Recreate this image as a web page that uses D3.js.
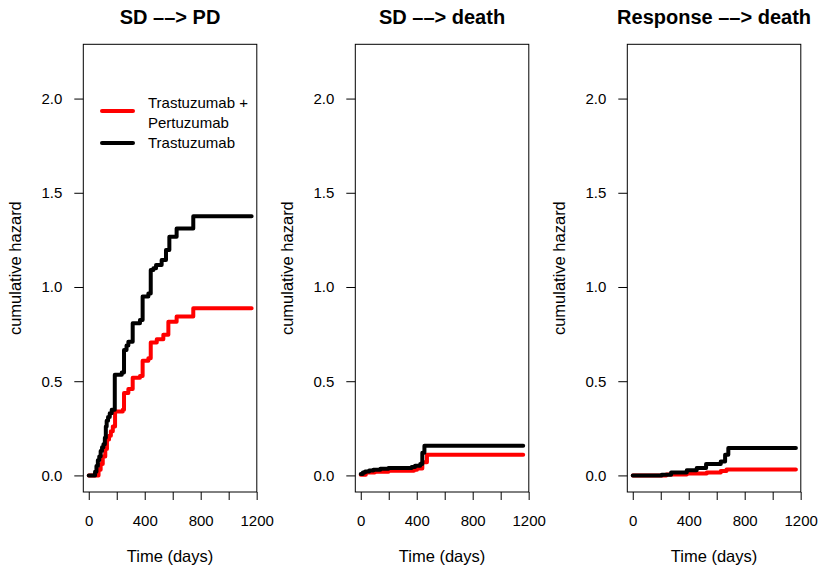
<!DOCTYPE html>
<html>
<head>
<meta charset="utf-8">
<script src="https://cdn.jsdelivr.net/npm/d3@7"></script>
<style>
  html, body { margin: 0; padding: 0; background: #fff; }
  svg text { font-family: "Liberation Sans", Arial, Helvetica, sans-serif; fill: #000; }
</style>
</head>
<body>
<svg id="chart" width="821" height="570"></svg>
<script>
// ---- data ----
const panelTitles = ["SD \u2013\u2013> PD", "SD \u2013\u2013> death", "Response \u2013\u2013> death"];
const seriesNames = ["Trastuzumab +\nPertuzumab", "Trastuzumab"];
const seriesColors = ["#ff0000", "#000000"];
const xTicks = [0, 200, 400, 600, 800, 1000, 1200];
const xTickLabels = ["0", "", "400", "", "800", "", "1200"];
const yTicks = [0, 0.5, 1.0, 1.5, 2.0];
const yTickLabels = ["0.0", "0.5", "1.0", "1.5", "2.0"];
const xLabel = "Time (days)";
const yLabel = "cumulative hazard";

// SD --> PD
const p1Days_TP = [0, 60, 70, 85, 100, 118, 130, 145, 158, 172, 188, 243, 252, 283, 314, 366, 385, 426, 443, 486, 533, 569, 628, 747, 1164];
const p1Haz_TP  = [0, 0, 0.03, 0.06, 0.10, 0.14, 0.19, 0.21, 0.235, 0.26, 0.339, 0.348, 0.437, 0.458, 0.519, 0.528, 0.609, 0.622, 0.705, 0.723, 0.746, 0.816, 0.843, 0.887, 0.887];
const p1Days_T  = [0, 45, 55, 65, 75, 85, 95, 105, 115, 122, 128, 138, 150, 164, 186, 236, 252, 270, 283, 314, 366, 385, 426, 443, 462, 481, 521, 552, 576, 628, 747, 1164];
const p1Haz_T   = [0, 0.02, 0.05, 0.08, 0.10, 0.13, 0.15, 0.165, 0.20, 0.26, 0.29, 0.31, 0.33, 0.348, 0.534, 0.546, 0.666, 0.69, 0.71, 0.807, 0.825, 0.949, 0.966, 1.09, 1.10, 1.117, 1.143, 1.196, 1.267, 1.311, 1.376, 1.376];

// SD --> death
const p2Days_TP = [0, 36, 100, 198, 380, 402, 440, 473, 1161];
const p2Haz_TP  = [0.003, 0.016, 0.020, 0.025, 0.030, 0.037, 0.07, 0.11, 0.11];
const p2Days_T  = [0, 15, 31, 60, 90, 140, 198, 364, 388, 425, 440, 455, 1161];
const p2Haz_T   = [0.007, 0.015, 0.021, 0.026, 0.030, 0.035, 0.039, 0.045, 0.051, 0.06, 0.12, 0.157, 0.157];

// Response --> death
const p3Days_TP = [0, 240, 386, 529, 629, 670, 1166];
const p3Haz_TP  = [0, 0.005, 0.010, 0.015, 0.023, 0.032, 0.032];
const p3Days_T  = [0, 207, 274, 386, 457, 524, 629, 660, 683, 1166];
const p3Haz_T   = [0, 0.004, 0.016, 0.027, 0.039, 0.060, 0.074, 0.11, 0.145, 0.145];

const panels = [
  [[p1Days_TP, p1Haz_TP], [p1Days_T, p1Haz_T]],
  [[p2Days_TP, p2Haz_TP], [p2Days_T, p2Haz_T]],
  [[p3Days_TP, p3Haz_TP], [p3Days_T, p3Haz_T]]
];

// ---- layout ----
const svg = d3.select("#chart");
const boxTop = 44.3, boxBottom = 492, boxW = 173.5, panelStep = 272, firstLeft = 83.3;
const y = d3.scaleLinear().domain([-0.088, 2.288]).range([boxBottom, boxTop]);

panels.forEach((series, i) => {
  const left = firstLeft + i * panelStep;
  const x = d3.scaleLinear().domain([-39, 1201]).range([left, left + boxW]);
  const g = svg.append("g");

  // curves
  const line = d3.line().x(d => x(d[0])).y(d => y(d[1])).curve(d3.curveStepAfter);
  series.forEach((s, k) => {
    const pts = s[0].map((d, j) => [d, s[1][j]]);
    g.append("path").attr("d", line(pts))
      .attr("fill", "none").attr("stroke", seriesColors[k])
      .attr("stroke-width", 4).attr("stroke-linejoin", "round").attr("stroke-linecap", "round");
  });

  // box
  g.append("rect").attr("x", left).attr("y", boxTop).attr("width", boxW).attr("height", boxBottom - boxTop)
    .attr("fill", "none").attr("stroke", "#000").attr("stroke-width", 1);

  // axes
  const ax = g.append("g").attr("transform", `translate(0,${boxBottom})`)
    .call(d3.axisBottom(x).tickValues(xTicks).tickSize(8).tickPadding(15)
      .tickFormat((d, j) => xTickLabels[j]));
  const ay = g.append("g").attr("transform", `translate(${left},0)`)
    .call(d3.axisLeft(y).tickValues(yTicks).tickSize(9).tickPadding(12)
      .tickFormat((d, j) => yTickLabels[j]));
  [ax, ay].forEach(a => {
    a.select(".domain").remove();
    a.selectAll("line").attr("stroke", "#000");
    a.selectAll("text").attr("font-size", 15).attr("fill", "#000")
      .style("font-family", '"Liberation Sans", Arial, Helvetica, sans-serif');
  });

  // titles
  g.append("text").attr("x", left + boxW / 2).attr("y", 24).attr("text-anchor", "middle")
    .attr("font-size", 20).attr("font-weight", "bold").text(panelTitles[i]);
  g.append("text").attr("x", left + boxW / 2).attr("y", 562).attr("text-anchor", "middle")
    .attr("font-size", 16.5).text(xLabel);
  g.append("text").attr("transform", `translate(${left - 68},${(boxTop + boxBottom) / 2}) rotate(-90)`)
    .attr("text-anchor", "middle").attr("dy", "0.35em").attr("font-size", 16.5).text(yLabel);
});

// legend (first panel)
const leg = svg.append("g");
const legRows = [
  { color: seriesColors[0], lineY: 111, texts: [[103, "Trastuzumab +"], [123, "Pertuzumab"]] },
  { color: seriesColors[1], lineY: 143, texts: [[143, "Trastuzumab"]] }
];
legRows.forEach(r => {
  leg.append("line").attr("x1", 102).attr("x2", 133).attr("y1", r.lineY).attr("y2", r.lineY)
    .attr("stroke", r.color).attr("stroke-width", 4).attr("stroke-linecap", "round");
  r.texts.forEach(t => {
    leg.append("text").attr("x", 148).attr("y", t[0]).attr("dy", "0.35em")
      .attr("font-size", 15).text(t[1]);
  });
});
</script>
</body>
</html>
